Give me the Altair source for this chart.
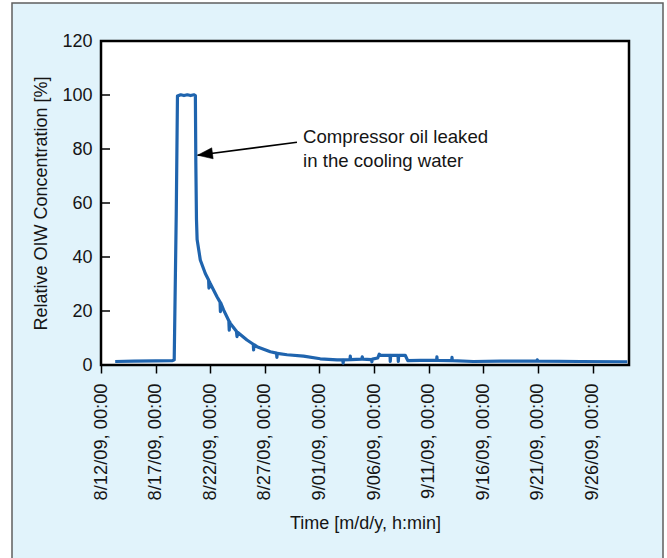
import altair as alt
import pandas as pd

# ---- data ----
times = [
    "2009-08-13T07:10", "2009-08-15T00:00", "2009-08-17T00:00", "2009-08-18T13:10",
    "2009-08-18T16:50", "2009-08-18T21:20", "2009-08-19T00:00", "2009-08-19T07:10",
    "2009-08-19T14:20", "2009-08-19T21:40", "2009-08-20T04:50", "2009-08-20T12:00",
    "2009-08-20T15:20", "2009-08-20T16:20", "2009-08-20T17:45", "2009-08-20T19:10",
    "2009-08-21T02:10", "2009-08-21T13:10", "2009-08-21T20:25", "2009-08-21T21:10",
    "2009-08-21T21:50", "2009-08-22T00:00", "2009-08-22T14:50", "2009-08-22T21:35",
    "2009-08-22T22:20", "2009-08-22T23:00", "2009-08-23T05:15", "2009-08-23T16:50",
    "2009-08-23T17:45", "2009-08-23T18:40", "2009-08-23T20:10", "2009-08-24T09:35",
    "2009-08-24T10:50", "2009-08-24T12:00", "2009-08-25T08:40", "2009-08-25T22:35",
    "2009-08-25T23:15", "2009-08-26T00:00", "2009-08-26T06:40", "2009-08-27T12:00",
    "2009-08-28T01:40", "2009-08-28T02:25", "2009-08-28T03:10", "2009-08-29T00:45",
    "2009-08-30T13:00", "2009-09-01T01:40", "2009-09-02T14:25",
    "2009-09-03T03:00", "2009-09-03T04:00", "2009-09-03T05:00",
    "2009-09-03T19:00", "2009-09-03T19:40", "2009-09-03T20:20",
    "2009-09-04T21:00", "2009-09-04T22:00", "2009-09-04T23:00",
    "2009-09-05T18:00", "2009-09-05T19:10", "2009-09-05T20:10",
    "2009-09-06T08:00", "2009-09-06T11:20", "2009-09-06T14:00",
    "2009-09-07T11:00", "2009-09-07T11:30", "2009-09-07T12:30",
    "2009-09-08T04:30", "2009-09-08T05:10", "2009-09-08T06:00",
    "2009-09-08T20:20", "2009-09-09T02:00", "2009-09-10T05:30",
    "2009-09-11T17:20", "2009-09-11T18:00", "2009-09-11T18:40",
    "2009-09-13T02:30", "2009-09-13T03:10", "2009-09-13T03:50",
    "2009-09-15T02:00", "2009-09-17T13:10", "2009-09-20T21:30",
    "2009-09-20T22:30", "2009-09-20T23:30", "2009-09-24T20:50",
    "2009-09-29T04:20",
]
values = [
    1.3, 1.4, 1.5, 1.6,
    1.9, 56.0, 99.6, 100.1,
    99.8, 100.1, 99.8, 100.1,
    99.8, 75.0, 54.0, 46.5,
    38.9, 33.9, 31.5, 28.5,
    31.0, 30.2, 25.3, 23.3,
    19.8, 23.0, 20.4, 16.4,
    12.9, 16.0, 15.4, 12.5,
    10.5, 12.1, 9.25, 7.7,
    5.6, 7.6, 6.8, 4.9,
    4.4, 2.8, 4.3, 3.8,
    3.3, 2.3, 1.9,
    1.9, 0.7, 1.9,
    2.0, 3.3, 2.0,
    2.2, 3.0, 2.2,
    2.0, 1.2, 2.2,
    2.6, 4.0, 3.6,
    3.6, 1.3, 3.6,
    3.6, 1.3, 3.6,
    3.6, 1.6, 1.7,
    1.7, 3.0, 1.7,
    1.6, 2.8, 1.6,
    1.3, 1.4, 1.4,
    1.9, 1.4, 1.3,
    1.2,
]

x_tick_dates = [
    (2009, 8, 12), (2009, 8, 17), (2009, 8, 22), (2009, 8, 27), (2009, 9, 1),
    (2009, 9, 6), (2009, 9, 11), (2009, 9, 16), (2009, 9, 21), (2009, 9, 26),
]
y_ticks = [0, 20, 40, 60, 80, 100, 120]

x_start = (2009, 8, 12, 0)
x_end = (2009, 9, 29, 8)

annot_text = "Compressor oil leaked\nin the cooling water"
annot_text_time = "2009-08-30T12:00"
annot_text_value = 82.1
arrow_tail_time = "2009-08-29T22:35"
arrow_tail_value = 82.5
arrow_tip_time = "2009-08-20T20:10"
arrow_tip_value = 77.7

x_title = "Time [m/d/y, h:min]"
y_title = "Relative OIW Concentration [%]"

# ---- build chart ----
FONT = "Liberation Sans"
W, H = 528, 324
TXT = "#151515"

df = pd.DataFrame({"time": times, "value": values})

def dt(t):
    return alt.DateTime(year=t[0], month=t[1], date=t[2], hours=t[3] if len(t) > 3 else 0)

xenc = alt.X(
    "time:T",
    scale=alt.Scale(domain=[dt(x_start), dt(x_end)], nice=False),
    axis=alt.Axis(
        values=[dt(t) for t in x_tick_dates],
        format="%-m/%d/%y, %H:%M",
        formatType="time",
        labelAngle=270,
        labelAlign="right",
        labelBaseline="middle",
        labelPadding=10,
        labelOverlap=False,
        labelFlush=False,
        labelBound=False,
        labelFont=FONT,
        labelFontSize=18.3,
        labelColor=TXT,
        tickSize=8,
        tickColor="black",
        tickWidth=1.5,
        domain=False,
        grid=False,
        title=x_title,
        titleFont=FONT,
        titleFontSize=18,
        titleFontWeight="normal",
        titleColor=TXT,
        titlePadding=15,
        zindex=1,
    ),
)
yenc = alt.Y(
    "value:Q",
    scale=alt.Scale(domain=[0, 120], nice=False, zero=True),
    axis=alt.Axis(
        values=y_ticks,
        ticks=False,
        domain=False,
        grid=False,
        labelPadding=9,
        labelFont=FONT,
        labelFontSize=18,
        labelColor=TXT,
        title=y_title,
        titleFont=FONT,
        titleFontSize=18,
        titleFontWeight="normal",
        titleColor=TXT,
        titlePadding=11,
        zindex=1,
    ),
)

one = pd.DataFrame({"k": [0]})

frame = alt.Chart(one).mark_rect(
    fill="#e1f3fb", stroke="#5f5f5f", strokeWidth=1.5
).encode(x=alt.value(-89), x2=alt.value(562), y=alt.value(-38), y2=alt.value(530))

plot_bg = alt.Chart(one).mark_rect(
    fill="white", stroke="black", strokeWidth=2.5
).encode(x=alt.value(0), x2=alt.value(W), y=alt.value(0), y2=alt.value(H))

ticks_df = pd.DataFrame({"value": y_ticks})
y_tick_rules = alt.Chart(ticks_df).mark_rule(color="black", strokeWidth=1.5).encode(
    y=yenc, x=alt.value(0), x2=alt.value(9)
)

line = alt.Chart(df).mark_line(
    color="#1f64ae", strokeWidth=3.2, strokeJoin="round", clip=True
).encode(x=xenc, y=yenc)

arrow_df = pd.DataFrame({
    "time": [arrow_tail_time], "value": [arrow_tail_value],
    "time2": [arrow_tip_time], "value2": [arrow_tip_value],
})
arrow_line = alt.Chart(arrow_df).mark_rule(color="black", strokeWidth=1.6).encode(
    x=xenc, y=yenc, x2="time2:T", y2="value2:Q"
)
head_df = pd.DataFrame({"time": [arrow_tip_time], "value": [arrow_tip_value]})
arrow_head = alt.Chart(head_df).mark_point(
    shape="M0,0 L1,-0.37 L1,0.37 Z", filled=True, fill="black", stroke="black",
    strokeWidth=0.5, opacity=1, size=900, angle=352.7
).encode(x=xenc, y=yenc)

text_df = pd.DataFrame({"time": [annot_text_time], "value": [annot_text_value], "label": [annot_text]})
annot = alt.Chart(text_df).mark_text(
    align="left", baseline="alphabetic", lineBreak="\n", lineHeight=24,
    font=FONT, fontSize=18.6, color=TXT
).encode(x=xenc, y=yenc, text="label:N")

chart = alt.layer(
    frame, plot_bg, y_tick_rules, line, arrow_line, arrow_head, annot
).properties(
    width=W, height=H,
    autosize=alt.AutoSizeParams(type="none"),
    padding={"left": 101, "top": 41, "right": 38, "bottom": 193},
).configure(background="white").configure_view(strokeWidth=0)

chart.save("out.html", embed_options={"renderer": "svg", "actions": False})
